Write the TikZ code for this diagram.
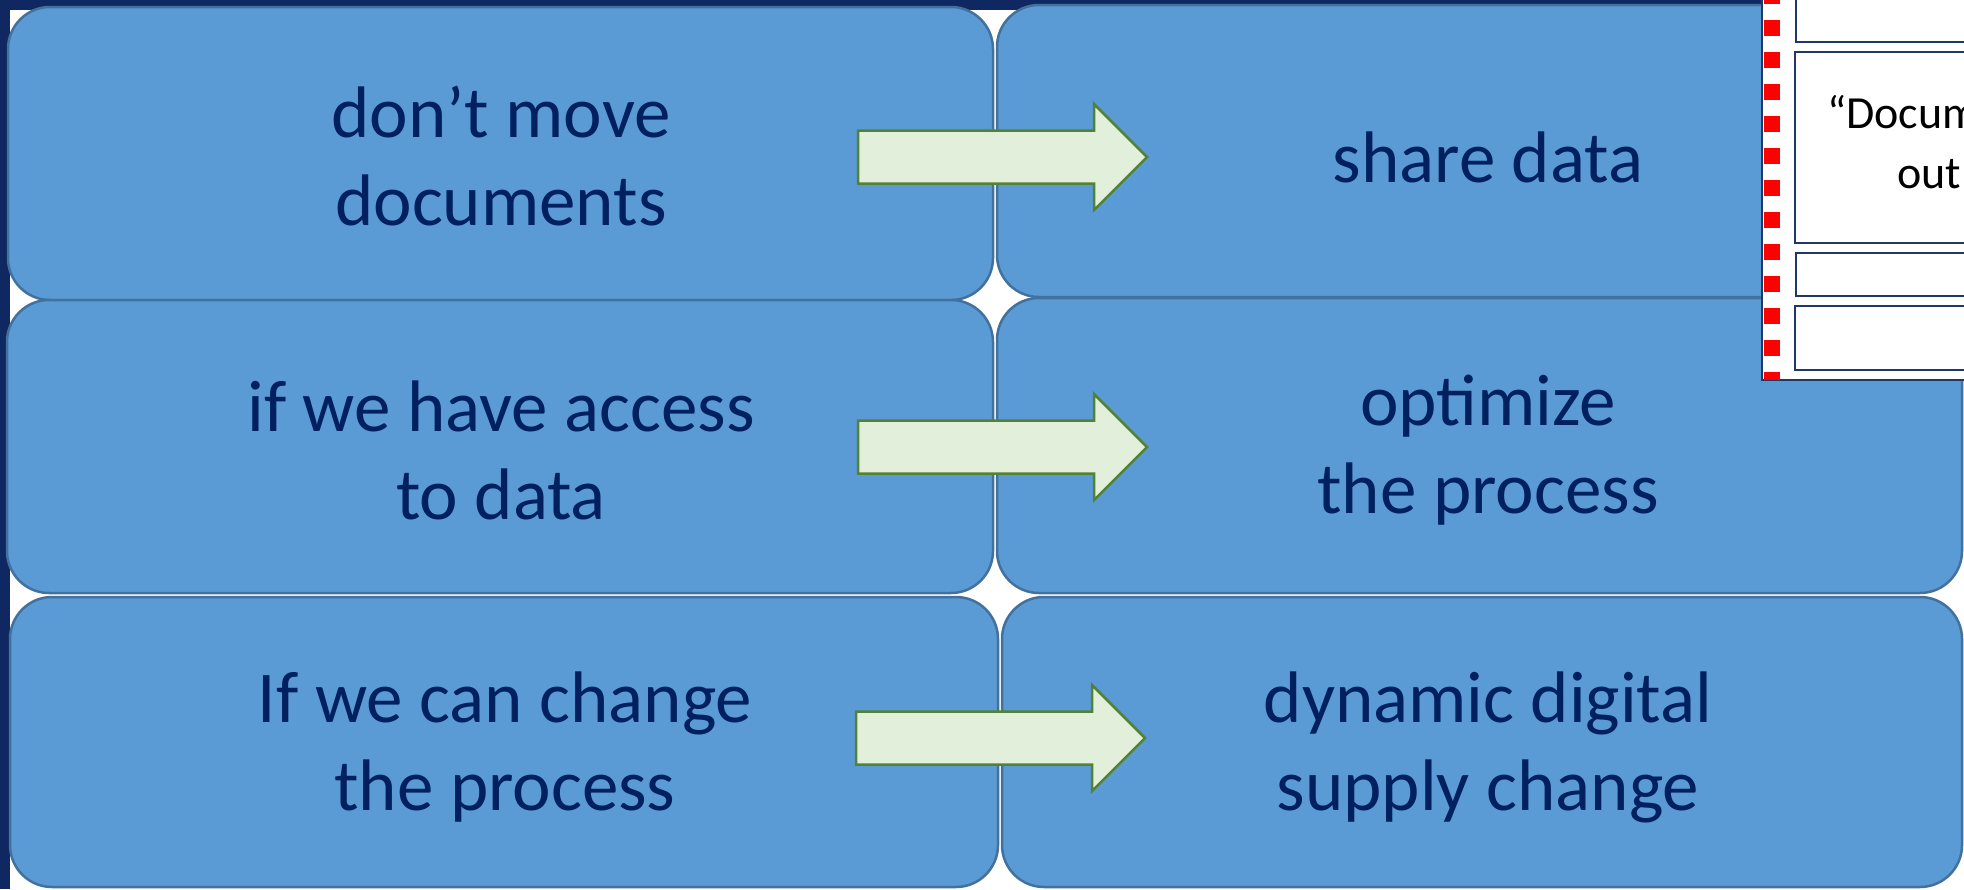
\documentclass[tikz,border=0pt]{standalone}
\usepackage{fontspec}
\setmainfont{Carlito}
\definecolor{bgnavy}{HTML}{0F2862}
\definecolor{boxfill}{HTML}{5B9BD5}
\definecolor{boxline}{HTML}{41719C}
\definecolor{txtnavy}{HTML}{002060}
\definecolor{arrfill}{HTML}{E2EFDA}
\definecolor{arrline}{HTML}{548235}
\definecolor{panelline}{HTML}{1F3864}
\tikzset{
  box/.style={draw=boxline, fill=boxfill, line width=2.5pt, rounded corners=42pt},
  boxtext/.style={text=txtnavy, align=center, inner sep=0pt, font=\fontsize{73}{88}\selectfont},
  blockarrow/.style={draw=arrline, fill=arrfill, line width=2.5pt, line join=miter},
  inbox/.style={draw=panelline, fill=white, line width=2.5pt},
  paneltext/.style={text=black, inner sep=0pt, font=\fontsize{46}{56}\selectfont}
}
\begin{document}
\begin{tikzpicture}[x=1pt,y=-1pt]
\useasboundingbox (0,0) rectangle (1964,889);
\fill[bgnavy] (0,0) rectangle (1964,889);
\fill[white] (10,10) rectangle (1964,889);

% boxes
\draw[box] (8,7) rectangle (993,300);
\draw[box] (997,5) rectangle (1962,297);
\draw[box] (7,300) rectangle (993,593);
\draw[box] (997,298) rectangle (1962,593);
\draw[box] (10,597) rectangle (998,887);
\draw[box] (1002,597) rectangle (1962,887);

% texts
\node[boxtext] (l1) at (501,156) {don’t move\\documents};
\node[boxtext] (r1) at (1488,157) {share data};
\node[boxtext] (l2) at (501,450) {if we have access\\to data};
\node[boxtext] (r2) at (1488,450) {optimize\\the process};
\node[boxtext] (l3) at (505,747) {If we can change\\the process};
\node[boxtext] (r3) at (1488,747) {dynamic digital\\supply change};

% block arrows
\foreach \cy/\dx in {157/0, 447/0, 738/-2}{
  \draw[blockarrow] ({858+\dx},{\cy-26.5}) -- ({1094+\dx},{\cy-26.5}) -- ({1094+\dx},{\cy-53})
    -- ({1147+\dx},\cy) -- ({1094+\dx},{\cy+53}) -- ({1094+\dx},{\cy+26.5})
    -- ({858+\dx},{\cy+26.5}) -- cycle;
}

% right panel
\draw[fill=white, draw=panelline, line width=2.5pt] (1762,-10) rectangle (2000,380);
\draw[red, line width=16pt, dash pattern=on 16pt off 16pt] (1772,-12) -- (1772,380);
\draw[inbox] (1796,-10) rectangle (2000,42);
\draw[inbox] (1795,52) rectangle (2000,243);
\draw[inbox] (1796,253) rectangle (2000,296);
\draw[inbox] (1795,306) rectangle (2000,370);
\node[paneltext, anchor=base west] (p1) at (1827,128) {“Documents};
\node[paneltext, anchor=base west] (p2) at (1897,188) {out};
\end{tikzpicture}
\end{document}
